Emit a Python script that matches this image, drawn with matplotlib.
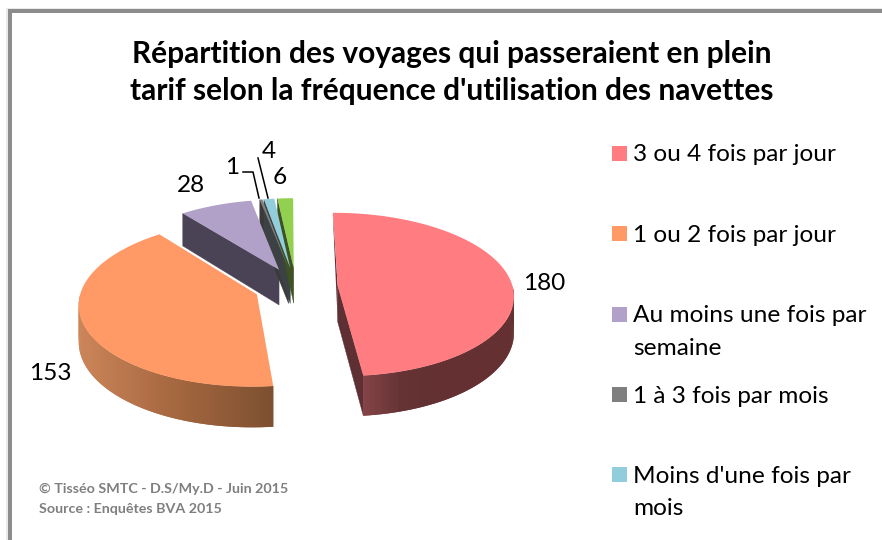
import numpy as np
import matplotlib
matplotlib.use("Agg")
import matplotlib.pyplot as plt
from matplotlib.patches import Polygon, Rectangle
from matplotlib.colors import to_rgb

plt.rcParams['font.family'] = ['Lato', 'DejaVu Sans']

values = [180, 153, 28, 1, 4, 6]
legend_labels = ["3 ou 4 fois par jour", "1 ou 2 fois par jour", "Au moins une fois par\nsemaine",
                 "1 à 3 fois par mois", "Moins d'une fois par\nmois"]
top_colors = ["#ff7c80", "#ff9966", "#b1a0c7", "#7f7f7f", "#92cddc", "#92d050"]
face_colors = ["#5f3033", "#7d5030", "#4a4356", "#3a3a3a", "#3c4244", "#3e5224"]
wall_stops = {0: ["#844447", "#653335", "#643032", "#643032", "#643032"],
              1: ["#7d5030", "#a5673f", "#cc8559"]}
title = "Répartition des voyages qui passeraient en plein\ntarif selon la fréquence d'utilisation des navettes"
footer = ["© Tisséo SMTC - D.S/My.D - Juin 2015", "Source : Enquêtes BVA 2015"]

CX, CY, RX, RY, K, EXPL, DEPTH, START = 296, 287, 175, 81, 0.105, 0.239, 36, -0.3

fig = plt.figure(figsize=(8.82, 5.4), dpi=100)
ax = fig.add_axes([0, 0, 1, 1])
ax.set_xlim(0, 882)
ax.set_ylim(540, 0)
ax.axis('off')

# frame
ax.add_patch(Rectangle((6, 8), 876, 532, fc="#e9e9e9", ec="none", zorder=0))
ax.add_patch(Rectangle((8, 9), 874, 531, fc="#8c8c8c", ec="none", zorder=0.1))
ax.add_patch(Rectangle((12, 13), 870, 527, fc="white", ec="none", zorder=0.2))


def project(u, v, d=0.0):
    s = 1 / (1 + K * v)
    return CX + RX * u * s, CY - RY * v * s + d * s


def rim(angles, off, d=0.0):
    a = np.radians(angles)
    return project(np.sin(a) + off[0], np.cos(a) + off[1], d)


def mix(stops, t):
    cols = np.array([to_rgb(c) for c in stops])
    xs = np.linspace(0, 1, len(stops))
    return tuple(np.interp(t, xs, cols[:, i]) for i in range(3))


total = sum(values)
bounds = START + np.cumsum([0] + values) * 360 / total


def draw_slice(i):
    a0, a1 = bounds[i], bounds[i + 1]
    mid = np.radians((a0 + a1) / 2)
    off = (EXPL * np.sin(mid), EXPL * np.cos(mid))
    angles = np.linspace(a0, a1, max(int(a1 - a0) * 2, 4))
    apex_t = project(off[0], off[1])
    apex_b = project(off[0], off[1], DEPTH)
    edge = a1 if i == 0 else a0
    if i != 1:
        e_t = rim(np.array([edge]), off)
        e_b = rim(np.array([edge]), off, DEPTH)
        pts = [apex_t, (e_t[0][0], e_t[1][0]), (e_b[0][0], e_b[1][0]), apex_b]
        ax.add_patch(Polygon(pts, fc=face_colors[i], ec=face_colors[i], lw=0.3, zorder=2 + i * 0.01))
    if i == 0:
        e_t = rim(np.array([a0]), off)
        pts = [apex_t, (e_t[0][0], e_t[1][0]), (e_t[0][0], e_t[1][0] + 4), apex_b]
        ax.add_patch(Polygon(pts, fc=face_colors[0], ec="none", zorder=2))
    lo, hi = max(a0, 90), min(a1, 270)
    if hi > lo and i in wall_stops:
        arc = np.linspace(lo, hi, 80)
        tx, ty = rim(arc, off)
        bx, by = rim(arc, off, DEPTH)
        span = (tx.min(), tx.max())
        # each quad overlaps the next one, so no seams show between them
        order = range(len(arc) - 1) if i == 0 else range(len(arc) - 2, -1, -1)
        for j in order:
            n = min(j + 2, len(arc) - 1) if i == 0 else j + 1
            m = j if i == 0 else max(j - 1, 0)
            t = ((tx[j] + tx[j + 1]) / 2 - span[0]) / (span[1] - span[0])
            if i == 1:
                t = 1 - t
            c = mix(wall_stops[i], t)
            ax.add_patch(Polygon([(tx[m], ty[m]), (tx[n], ty[n]), (bx[n], by[n]), (bx[m], by[m])],
                                 fc=c, ec="none", zorder=2.5))
    x, y = rim(angles, off)
    ax.add_patch(Polygon(np.column_stack([np.r_[apex_t[0], x], np.r_[apex_t[1], y]]),
                         fc=top_colors[i], ec="none", zorder=3 + i * 0.01))


for k in [5, 4, 3, 2, 1, 0]:
    draw_slice(k)

# leader lines
ax.plot([243, 253, 259], [172, 172, 198], color="black", lw=1.1, zorder=5)
ax.plot([258, 268], [158, 198], color="black", lw=1.1, zorder=5)

# data labels
label_pos = [(544, 284), (50, 373), (191, 186), (232, 167), (269, 152), (280, 178)]
for val, (lx, ly) in zip(values, label_pos):
    ax.text(lx, ly, str(val), fontsize=17.6, ha='center', va='center', color="black", zorder=6)

# title
for line, yb in zip(title.split("\n"), [63, 100]):
    ax.text(452, yb, line, fontsize=21.5, fontweight='bold', ha='center', va='baseline', color="black")

# legend
sq_y = [153.5, 233.5, 314.5, 394.5, 474.5]
baselines = [[161], [242], [322, 355], [403], [483, 515]]
for lab, c, sy, bl in zip(legend_labels, top_colors, sq_y, baselines):
    ax.add_patch(Rectangle((612, sy - 7.5), 15, 15, fc=c, ec="none", zorder=4))
    for line, yb in zip(lab.split("\n"), bl):
        ax.text(633, yb, line, fontsize=17.6, ha='left', va='baseline', color="black")

# footer
for line, yb in zip(footer, [493, 513]):
    ax.text(39, yb, line, fontsize=10.3, fontweight='bold', ha='left', va='baseline', color="#7f7f7f")

fig.savefig("out.png", dpi=100)
